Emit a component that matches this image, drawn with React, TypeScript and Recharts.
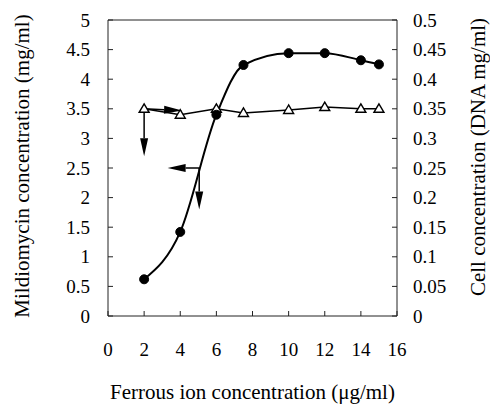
import React from 'react';
import { ComposedChart, Line, XAxis, YAxis, ReferenceLine } from 'recharts';

const xValues = [2, 4, 6, 7.5, 10, 12, 14, 15];
const mildiomycin = [0.62, 1.42, 3.4, 4.24, 4.44, 4.44, 4.32, 4.25];
const cellConc = [0.35, 0.34, 0.35, 0.343, 0.348, 0.353, 0.35, 0.35];
const xTicks = [0, 2, 4, 6, 8, 10, 12, 14, 16];
const leftTicks = [0, 0.5, 1, 1.5, 2, 2.5, 3, 3.5, 4, 4.5, 5];
const rightTicks = [0, 0.05, 0.1, 0.15, 0.2, 0.25, 0.3, 0.35, 0.4, 0.45, 0.5];
const xTitle = 'Ferrous ion concentration (μg/ml)';
const leftTitle = 'Mildiomycin concentration (mg/ml)';
const rightTitle = 'Cell concentration (DNA mg/ml)';
// annotation arrows in data units (left axis)
const arrowStarts = [
  { x: 2, y: 3.5 },
  { x: 2, y: 3.5 },
  { x: 5.05, y: 2.5 },
  { x: 5.05, y: 2.5 },
];
const arrowEnds = [
  { x: 2, y: 2.7 },
  { x: 4.1, y: 3.47 },
  { x: 3.3, y: 2.5 },
  { x: 5.05, y: 1.8 },
];

const data = xValues.map((x, i) => ({ x, m: mildiomycin[i], c: cellConc[i] }));

const FONT = '"Liberation Serif", "Times New Roman", serif';
const TICK_SIZE = 19;
const TITLE_SIZE = 21;

const TriangleDot = (props: any) => {
  const { cx, cy, index } = props;
  if (cx == null || cy == null) return null;
  return (
    <polygon
      key={`t-${index}`}
      points={`${cx},${cy - 5} ${cx - 5},${cy + 3.5} ${cx + 5},${cy + 3.5}`}
      fill="#fff"
      stroke="#000"
      strokeWidth={1.4}
    />
  );
};

const ArrowShape = (props: any) => {
  const { x1, y1, x2, y2 } = props;
  const dx = x2 - x1;
  const dy = y2 - y1;
  const len = Math.hypot(dx, dy) || 1;
  const ux = dx / len;
  const uy = dy / len;
  const headLen = 18;
  const headW = 4;
  const bx = x2 - ux * headLen;
  const by = y2 - uy * headLen;
  const px = -uy;
  const py = ux;
  return (
    <g>
      <line x1={x1} y1={y1} x2={bx} y2={by} stroke="#000" strokeWidth={1.5} />
      <polygon
        points={`${x2},${y2} ${bx + px * headW},${by + py * headW} ${bx - px * headW},${by - py * headW}`}
        fill="#000"
      />
    </g>
  );
};

const makeVTitle = (label: string, dxFromLeft: number, cyOffset: number) => (props: any) => {
  const vb = props.viewBox || {};
  const cx = vb.x + dxFromLeft;
  const cy = vb.y + vb.height / 2 + cyOffset;
  return (
    <text
      x={cx}
      y={cy}
      transform={`rotate(-90 ${cx} ${cy})`}
      textAnchor="middle"
      dominantBaseline="central"
      fontFamily={FONT}
      style={{ fontFamily: FONT, fontSize: TITLE_SIZE, fill: '#000' }}
    >
      {label}
    </text>
  );
};

const xTitleContent = (props: any) => {
  const vb = props.viewBox || {};
  const cx = vb.x + vb.width / 2;
  const y = vb.y + vb.height - 6;
  return (
    <text
      x={cx}
      y={y}
      textAnchor="middle"
      fontFamily={FONT}
      style={{ fontFamily: FONT, fontSize: TITLE_SIZE, fill: '#000' }}
    >
      {xTitle}
    </text>
  );
};

const AxisTick = (props: any) => {
  const { x, y, payload, textAnchor, verticalAnchor } = props;
  let dy = '0.35em';
  if (verticalAnchor === 'start') dy = '0.71em';
  return (
    <text
      x={x}
      y={y}
      dy={dy}
      textAnchor={textAnchor}
      fontFamily={FONT}
      style={{ fontFamily: FONT, fontSize: TICK_SIZE, fill: '#000' }}
    >
      {payload.value}
    </text>
  );
};

export default function App() {
  return (
    <div style={{ position: 'absolute', left: 0, top: 0 }}>
      <ComposedChart width={490} height={405} data={data} margin={{ top: 20, right: 0, left: 0, bottom: 0 }}>
        <XAxis
          dataKey="x"
          type="number"
          domain={[0, 16]}
          ticks={xTicks}
          height={89}
          tickSize={-5}
          tickMargin={32}
          tick={AxisTick}
          stroke="#222"
          interval={0}
          label={{ content: xTitleContent }}
        />
        <YAxis
          yAxisId="left"
          domain={[0, 5]}
          ticks={leftTicks}
          width={108}
          tickSize={-5}
          tickMargin={23}
          tick={AxisTick}
          stroke="#222"
          interval={0}
          label={{ content: makeVTitle(leftTitle, 22, -2) }}
        />
        <YAxis
          yAxisId="right"
          orientation="right"
          domain={[0, 0.5]}
          ticks={rightTicks}
          width={93}
          tickSize={-5}
          tickMargin={21}
          tick={AxisTick}
          stroke="#222"
          interval={0}
          label={{ content: makeVTitle(rightTitle, 81, -11) }}
        />
        <ReferenceLine yAxisId="left" y={5} stroke="#222" />
        {arrowStarts.map((s, i) => (
          <ReferenceLine
            key={`arrow-${i}`}
            yAxisId="left"
            segment={[s, arrowEnds[i]]}
            shape={ArrowShape}
            ifOverflow="visible"
          />
        ))}
        <Line
          yAxisId="right"
          type="linear"
          dataKey="c"
          stroke="#000"
          strokeWidth={1.4}
          dot={TriangleDot}
          isAnimationActive={false}
        />
        <Line
          yAxisId="left"
          type="monotone"
          dataKey="m"
          stroke="#000"
          strokeWidth={2}
          dot={{ r: 4.5, fill: '#000', stroke: '#000', strokeWidth: 1 }}
          isAnimationActive={false}
        />
      </ComposedChart>
    </div>
  );
}
